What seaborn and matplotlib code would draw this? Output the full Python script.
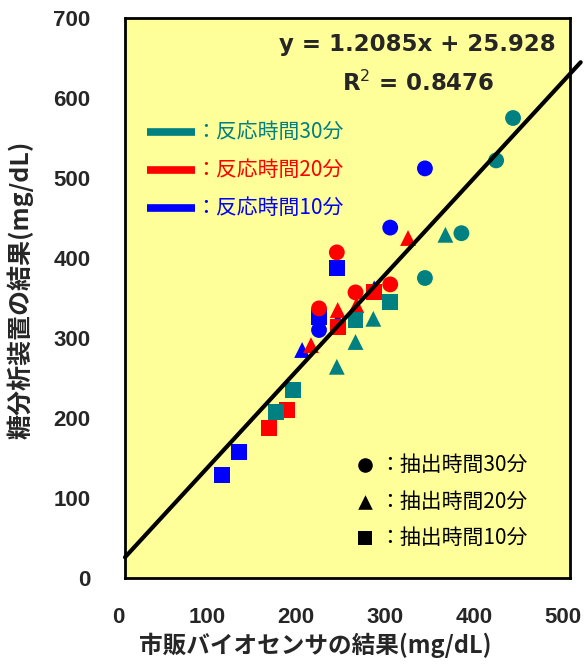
import matplotlib
matplotlib.use("Agg")
import matplotlib.pyplot as plt
import matplotlib.transforms as mtransforms
import seaborn as sns
import pandas as pd
import numpy as np

# ---- data ----
teal_circle_x = [436, 417, 378, 337]
teal_circle_y = [575, 522, 431, 375]
teal_tri_x = [360, 279, 259, 238]
teal_tri_y = [429, 324, 295, 264]
teal_sq_x = [298, 259, 189, 170]
teal_sq_y = [345, 322, 235, 208]

red_circle_x = [238, 298, 259, 218]
red_circle_y = [407, 367, 357, 337]
red_tri_x = [318, 260, 239, 209]
red_tri_y = [425, 341, 335, 291]
red_sq_x = [280, 239, 182, 162]
red_sq_y = [357, 314, 210, 187]

blue_circle_x = [337, 298, 218]
blue_circle_y = [512, 438, 310]
blue_tri_x = [199, 239, 280]
blue_tri_y = [285, 322, 362]
blue_sq_x = [238, 218, 128, 109]
blue_sq_y = [387, 326, 158, 129]

slope = 1.2085
intercept = 25.928
r2 = 0.8476

x_ticks = [0, 100, 200, 300, 400, 500]
y_ticks = [0, 100, 200, 300, 400, 500, 600, 700]
reaction_labels = ["：反応時間30分", "：反応時間20分", "：反応時間10分"]
extract_labels = ["：抽出時間30分", "：抽出時間20分", "：抽出時間10分"]
xlabel = "市販バイオセンサの結果(mg/dL)"
ylabel = "糖分析装置の結果(mg/dL)"

colors = {"10": "#0000FF", "20": "#FF0000", "30": "#008080"}
markers = {"30": "o", "20": "^", "10": "s"}

rows = []
def add(xs, ys, react, ext):
    for a, b in zip(xs, ys):
        rows.append({"x": a, "y": b, "react": react, "ext": ext})

# draw order: blue, red, teal
add(blue_sq_x, blue_sq_y, "10", "10")
add(blue_tri_x, blue_tri_y, "10", "20")
add(blue_circle_x, blue_circle_y, "10", "30")
add(red_sq_x, red_sq_y, "20", "10")
add(red_tri_x, red_tri_y, "20", "20")
add(red_circle_x, red_circle_y, "20", "30")
add(teal_sq_x, teal_sq_y, "30", "10")
add(teal_tri_x, teal_tri_y, "30", "20")
add(teal_circle_x, teal_circle_y, "30", "30")
df = pd.DataFrame(rows)

sns.set_style("white")
plt.rcParams["font.family"] = ["Noto Sans CJK JP", "DejaVu Sans"]

fig = plt.figure(figsize=(5.86, 6.66), dpi=100)
ax = fig.add_axes([125 / 586, 88 / 666, 445 / 586, 560 / 666])
ax.set_facecolor("#FFFF99")

sns.scatterplot(data=df, x="x", y="y", hue="react", style="ext",
                palette=colors, markers=markers, s=130, linewidth=0,
                legend=False, ax=ax, zorder=3)

line_x = np.array([0, 512])
line_df = pd.DataFrame({"x": line_x, "y": slope * line_x + intercept})
sns.lineplot(data=line_df, x="x", y="y", color="black", linewidth=3,
             ax=ax, zorder=4, clip_on=False)

ax.set_xlim(0, 500)
ax.set_ylim(0, 700)
ax.set_xticks(x_ticks)
ax.set_yticks(y_ticks)
ax.set_xticklabels([str(v) for v in x_ticks])
ax.set_yticklabels([str(v) for v in y_ticks])
ax.tick_params(axis="both", direction="in", length=6, width=2, color="black")
ax.tick_params(axis="x", pad=21)
ax.tick_params(axis="y", pad=25)
for lab in ax.get_xticklabels() + ax.get_yticklabels():
    lab.set_fontweight("bold")
    lab.set_fontsize(16)
    lab.set_family(["Liberation Sans", "DejaVu Sans"])
offset = mtransforms.ScaledTranslation(-7 / 100, 0, fig.dpi_scale_trans)
for lab in ax.xaxis.get_majorticklabels():
    lab.set_transform(lab.get_transform() + offset)
for sp in ax.spines.values():
    sp.set_visible(True)
    sp.set_color("black")
    sp.set_linewidth(2)

ax.set_xlabel(xlabel, fontsize=17, fontweight="bold")
ax.xaxis.set_label_coords(0.427, -0.098)
ax.set_ylabel(ylabel, fontsize=18, fontweight="bold")
ax.yaxis.set_label_coords(-0.205, 0.515)

# equation
ax.text(0.658, 0.952, f"y = {slope:.4f}x + {intercept:.3f}", transform=ax.transAxes,
        ha="center", va="center", fontsize=16.5, fontweight="bold", family=["DejaVu Sans"])
ax.text(0.658, 0.884, f"R$^2$ = {r2:.4f}", transform=ax.transAxes,
        ha="center", va="center", fontsize=16.5, fontweight="bold", family=["DejaVu Sans"])

# reaction-time legend
leg_y = [0.796, 0.729, 0.661]
for lbl, key, yy in zip(reaction_labels, ["30", "20", "10"], leg_y):
    ax.plot([0.05, 0.157], [yy, yy], transform=ax.transAxes, color=colors[key],
            linewidth=5.5, solid_capstyle="butt", zorder=5)
    ax.text(0.158, yy, lbl, transform=ax.transAxes, ha="left", va="center",
            fontsize=15, color=colors[key])

# extraction-time legend
leg2_y = [0.202, 0.136, 0.071]
for lbl, key, yy in zip(extract_labels, ["30", "20", "10"], leg2_y):
    ax.scatter([0.539], [yy], transform=ax.transAxes, marker=markers[key],
               s=110, color="black", linewidth=0, zorder=5)
    ax.text(0.572, yy, lbl, transform=ax.transAxes, ha="left", va="center",
            fontsize=15, color="black")

fig.savefig("out.png", dpi=100, facecolor="white")
